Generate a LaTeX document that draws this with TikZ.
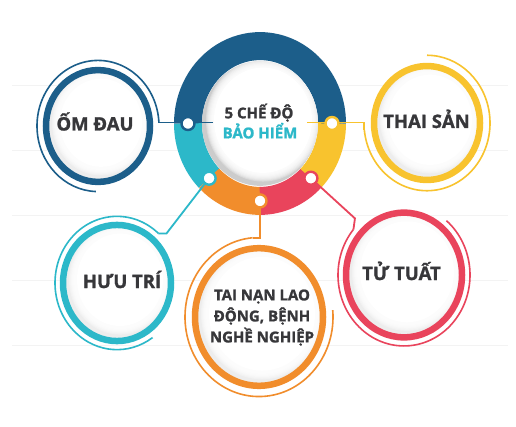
\documentclass[tikz,border=0pt]{standalone}
\usepackage{fontspec}
\setmainfont{Open Sans}[BoldFeatures={FakeBold=1.3}]
\usetikzlibrary{calc}
\definecolor{cblue}{RGB}{28,94,138}
\definecolor{ccyan}{RGB}{44,184,201}
\definecolor{corange}{RGB}{241,141,44}
\definecolor{cred}{RGB}{233,68,92}
\definecolor{cyellow}{RGB}{248,195,46}
\definecolor{ctext}{RGB}{55,55,58}
\definecolor{cgrid}{RGB}{243,243,243}
\tikzset{
  thickring/.style={line width=6.5pt},
  thinarc/.style={line width=1.6pt},
  conn/.style={line width=1.8pt},
  ringdot/.style={fill=white, line width=2.4pt},
  seg/.style={line width=28pt},
  lbl/.style={font=\fontsize{18.5}{21}\selectfont\bfseries, text=ctext, anchor=base, inner sep=0pt},
  smalllbl/.style={font=\fontsize{15}{21}\selectfont\bfseries, text=ctext, anchor=base, inner sep=0pt},
}
\newcommand{\softdisc}[3]{%
  \begin{scope}
    \clip (0,0) circle[radius=#1];
    \fill[#2] (0,0) circle[radius=#1];
    \foreach \k in {0,...,7}{
      \pgfmathsetmacro{\rr}{#1-1-\k}
      \fill[white, opacity=0.3] (#3) circle[radius=\rr];
    }
    \pgfmathsetmacro{\rr}{#1-9}
    \fill[white] (#3) circle[radius=\rr];
  \end{scope}}
\newcommand{\bubble}[7]{%
  \begin{scope}[shift={(#2)}, yscale=1.075]
    \coordinate (#1) at (0,0);
    \pgfmathsetmacro{\ri}{#4-2}
    \softdisc{\ri}{black!7}{3,3}
    \draw[thickring, #3] (0,0) circle[radius=#4];
    \draw[thinarc, #3] (#6:#5) arc[start angle=#6, end angle=#7, radius=#5];
    \coordinate (#1A) at (#6:#5);
  \end{scope}}
\begin{document}
\begin{tikzpicture}[x=1pt,y=1pt]
\useasboundingbox (0,0) rectangle (516,426);
\fill[white] (0,0) rectangle (516,426);
\foreach \yy in {81,146,211,276,341}
  \draw[cgrid, line width=0.8pt] (12,\yy) -- (508,\yy);

% central ring
\begin{scope}[shift={(260,302.5)}, yscale=1.075]
  \coordinate (cC) at (0,0);
  \draw[seg, cblue]   (-0.3:72) arc[start angle=-0.3, end angle=180.3, radius=72];
  \draw[seg, ccyan]   (180:72) arc[start angle=180, end angle=225.3, radius=72];
  \draw[seg, corange] (225:72) arc[start angle=225, end angle=270.3, radius=72];
  \draw[seg, cred]    (270:72) arc[start angle=270, end angle=315.3, radius=72];
  \draw[seg, cyellow] (315:72) arc[start angle=315, end angle=360, radius=72];
  \softdisc{58}{black!20}{3,3}
  \coordinate (dL) at (180:72);
  \coordinate (dR) at (0:72);
  \coordinate (dLL) at (225:72);
  \coordinate (dB) at (270:72);
  \coordinate (dLR) at (315:72);
\end{scope}

\bubble{od}{98,300}{cblue}{52}{61}{3}{268}
\bubble{ts}{427,303}{cyellow}{53}{63}{186}{450}
\bubble{ht}{117,143}{ccyan}{54}{62}{48}{305}
\bubble{tn}{259,109}{corange}{64}{74}{95}{365}
\bubble{tt}{404,151}{cred}{58}{66}{140}{410}

\coordinate (cInL) at (213,303.5);
\coordinate (cInR) at (307,303.5);
\coordinate (htK) at ($(htA)+(8,0)$);
\coordinate (ttK) at ($(ttA)+(1.5,11)$);
\draw[conn, cblue] (cInL) -- (cInL -| odA) -- (odA);
\draw[conn, cyellow] (cInR) -- (cInR -| tsA) -- (tsA);
\draw[conn, ccyan] (dLL) -- (htK) -- (htA);
\draw[conn, corange] (dB) -- (dB |- tnA) -- (tnA);
\draw[conn, cred] (dLR) -- (ttK) -- (ttA);

\foreach \p/\c in {dL/cblue, dR/cyellow, dLL/ccyan, dB/corange, dLR/cred}
  \draw[ringdot, draw=\c] (\p) circle[radius=6.5];

\node[lbl] (odT) at (95,295.5) {ỐM ĐAU};
\node[lbl] (tsT) at (426.5,298) {THAI SẢN};
\node[lbl] (htT) at (122,138) {HƯU TRÍ};
\node[lbl] (ttT) at (401.5,146) {TỬ TUẤT};
\node[smalllbl] (tn1) at (262,125.6) {TAI NẠN LAO};
\node[smalllbl] (tn2) at (262,104.6) {ĐỘNG, BỆNH};
\node[smalllbl] (tn3) at (262,83.6) {NGHỀ NGHIỆP};
\node[smalllbl] (c1) at (259,307.6) {5 CHẾ ĐỘ};
\node[smalllbl, text=ccyan] (c2) at (260,287.6) {BẢO HIỂM};
\end{tikzpicture}
\end{document}
